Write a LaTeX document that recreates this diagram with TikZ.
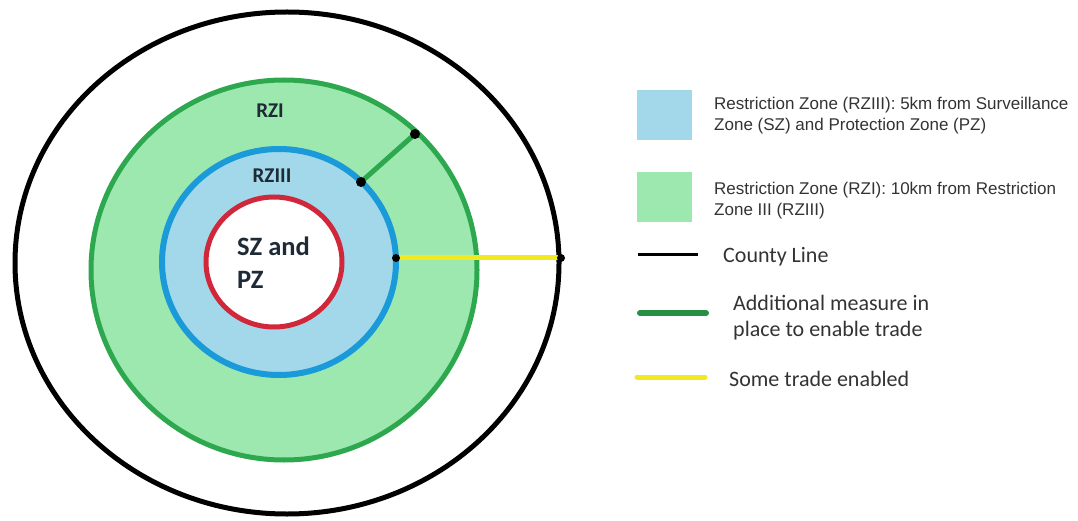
\documentclass[tikz,border=0pt]{standalone}
\usepackage{fontspec}
\setmainfont{Carlito}
\newfontfamily\arialf{Liberation Sans}
\newfontfamily\calf{Carlito}
\definecolor{greenfill}{HTML}{9DE8AE}
\definecolor{greenline}{HTML}{2EA84F}
\definecolor{bluefill}{HTML}{A2D8EA}
\definecolor{blueline}{HTML}{1A9AD8}
\definecolor{redline}{HTML}{D0283A}
\definecolor{yellowline}{HTML}{F2EA1E}
\definecolor{darktxt}{HTML}{1E2A36}
\definecolor{graytxt}{HTML}{333333}
\tikzset{
  dotmark/.style={circle, fill=black, inner sep=0pt, minimum size=10pt},
  zonelabel/.style={font=\calf\bfseries\fontsize{21}{24}\selectfont, text=darktxt, inner sep=0pt},
  legtextA/.style={font=\arialf\fontsize{17}{21}\selectfont, text=graytxt, align=left, anchor=base west, inner sep=0pt},
  legtextB/.style={font=\calf\fontsize{22}{26}\selectfont, text=graytxt, align=left, anchor=base west, inner sep=0pt}
}
\begin{document}
\begin{tikzpicture}[x=1pt, y=-1pt]
\useasboundingbox (0,0) rectangle (1078,521);
% zones
\draw[line width=5pt, black] (287,263) ellipse [x radius=272, y radius=251];
\draw[line width=5pt, greenline, fill=greenfill] (284,270) ellipse [x radius=193, y radius=190];
\draw[line width=6pt, blueline, fill=bluefill] (279,262) ellipse [x radius=117, y radius=113];
\draw[line width=5pt, redline, fill=white] (274,262) ellipse [x radius=68, y radius=65];
% labels
\node[zonelabel] (rzi) at (270,111) {RZI};
\node[zonelabel] (rziii) at (272,176) {RZIII};
\node[font=\calf\bfseries\fontsize{26.5}{33}\selectfont, text=darktxt, align=left, anchor=base west, inner sep=0pt] (szpz) at (237,288) {SZ and\\PZ};
% connectors
\coordinate (gA) at (415,134);
\coordinate (gB) at (361,182);
\coordinate (yA) at (396,258);
\coordinate (yB) at (561,258);
\draw[line width=5pt, greenline] (gB) -- (gA);
\draw[line width=5pt, yellowline] (yA) -- (yB);
\node[dotmark] (dA) at (gA) {};
\node[dotmark] (dB) at (gB) {};
\node[dotmark, minimum size=8pt] (dC) at (yA) {};
\node[dotmark, minimum size=8pt] (dD) at (yB) {};
% legend
\fill[bluefill] (637,90) rectangle (692,140);
\fill[greenfill] (637,172) rectangle (692,222);
\node[legtextA] (t1) at (714,131) {Restriction Zone (RZIII): 5km from Surveillance\\Zone (SZ) and Protection Zone (PZ)};
\node[legtextA] (t2) at (714,216) {Restriction Zone (RZI): 10km from Restriction\\Zone III (RZIII)};
\coordinate (bl1) at (638,255); \coordinate (bl2) at (698,255);
\draw[line width=3pt, black] (bl1) -- (bl2);
\node[legtextB] (t3) at (723,262) {County Line};
\coordinate (gl1) at (640,313); \coordinate (gl2) at (706,313);
\draw[line width=6pt, greenline!85!black, line cap=round] (gl1) -- (gl2);
\node[legtextB] (t4) at (733,336) {Additional measure in\\place to enable trade};
\coordinate (yl1) at (637,377); \coordinate (yl2) at (705,377);
\draw[line width=5pt, yellowline, line cap=round] (yl1) -- (yl2);
\node[legtextB] (t5) at (729,386) {Some trade enabled};
\end{tikzpicture}
\end{document}
